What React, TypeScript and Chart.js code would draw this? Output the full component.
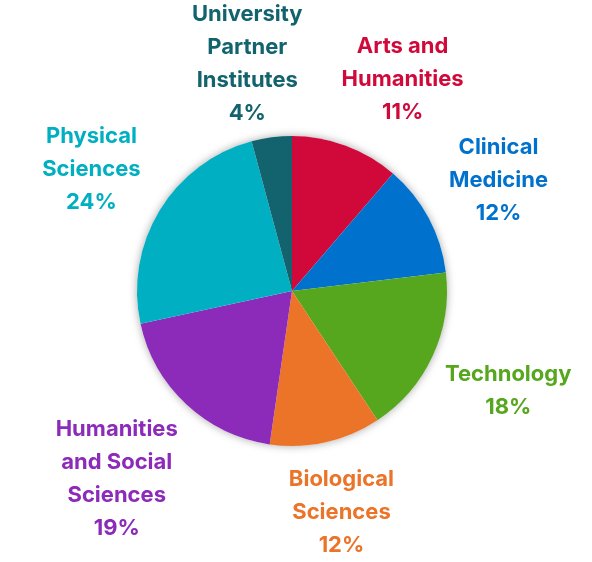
import React, { useEffect, useRef } from "react";
import { Chart, registerables } from "chart.js";

Chart.register(...registerables);

const categories: string[][] = [
  ["Arts and", "Humanities"],
  ["Clinical", "Medicine"],
  ["Technology"],
  ["Biological", "Sciences"],
  ["Humanities", "and Social", "Sciences"],
  ["Physical", "Sciences"],
  ["University", "Partner", "Institutes"],
];
const values: number[] = [11.3, 11.8, 17.6, 11.6, 19.3, 24.2, 4.2];
const colors: string[] = [
  "#D1093B",
  "#0072CE",
  "#56A61E",
  "#EB7429",
  "#8C2AB9",
  "#00AFC1",
  "#12636D",
];

const FONT = "bold 22px Inter, 'Open Sans', sans-serif";
const LINE_H = 33;
const GAP = 12;

const shadowPlugin = {
  id: "pieShadow",
  beforeDatasetsDraw(chart: any) {
    const meta = chart.getDatasetMeta(0);
    const arc = meta.data[0];
    if (!arc) return;
    const { x, y, outerRadius } = arc.getProps(["x", "y", "outerRadius"], true);
    const ctx = chart.ctx;
    ctx.save();
    ctx.shadowColor = "rgba(0,0,0,0.35)";
    ctx.shadowBlur = 9;
    ctx.fillStyle = "#ffffff";
    ctx.beginPath();
    ctx.arc(x, y, outerRadius, 0, Math.PI * 2);
    ctx.fill();
    ctx.restore();
  },
};

const labelPlugin = {
  id: "outsideLabels",
  afterDatasetsDraw(chart: any) {
    const meta = chart.getDatasetMeta(0);
    const ctx = chart.ctx;
    const total = values.reduce((a, b) => a + b, 0);
    const W = chart.width;
    const H = chart.height;
    ctx.save();
    ctx.font = FONT;
    ctx.textAlign = "center";
    ctx.textBaseline = "middle";
    const items = meta.data.map((arc: any, i: number) => {
      const p = arc.getProps(["x", "y", "startAngle", "endAngle", "outerRadius"], true);
      const lines = [...categories[i], Math.round((values[i] / total) * 100) + "%"];
      const w = Math.max(...lines.map((l) => ctx.measureText(l).width));
      const h = lines.length * LINE_H;
      return { p, lines, w, h, angle: (p.startAngle + p.endAngle) / 2, cx: 0, cy: 0 };
    });
    const place = (it: any) => {
      const dx = Math.cos(it.angle);
      const dy = Math.sin(it.angle);
      const d = it.p.outerRadius + GAP + (Math.abs(dx) * it.w) / 2 + (Math.abs(dy) * it.h) / 2;
      it.cx = it.p.x + dx * d;
      it.cy = it.p.y + dy * d;
      it.cy = Math.max(it.cy, it.h / 2 - 2);
      it.cy = Math.min(it.cy, H - it.h / 2 + 2);
      it.cx = Math.max(it.cx, it.w / 2);
      it.cx = Math.min(it.cx, W - it.w / 2);
    };
    const overlap = (a: any, b: any) =>
      Math.abs(a.cx - b.cx) < (a.w + b.w) / 2 + 38 && Math.abs(a.cy - b.cy) < (a.h + b.h) / 2 - 4;
    items.forEach(place);
    for (let iter = 0; iter < 400; iter++) {
      let moved = false;
      for (let i = 0; i < items.length; i++) {
        const a = items[i];
        const b = items[(i + 1) % items.length];
        if (overlap(a, b)) {
          a.angle -= 0.003;
          b.angle += 0.007;
          place(a);
          place(b);
          moved = true;
        }
      }
      if (!moved) break;
    }
    items.forEach((it: any, i: number) => {
      ctx.fillStyle = colors[i];
      it.lines.forEach((l: string, k: number) => {
        ctx.fillText(l, it.cx, it.cy - it.h / 2 + LINE_H * (k + 0.5));
      });
    });
    ctx.restore();
  },
};

export default function App() {
  const ref = useRef<HTMLCanvasElement | null>(null);
  useEffect(() => {
    if (!ref.current) return;
    const chart = new Chart(ref.current, {
      type: "pie",
      data: {
        labels: categories.map((c) => c.join(" ")),
        datasets: [
          {
            data: values,
            backgroundColor: colors,
            borderWidth: 0,
          },
        ],
      },
      options: {
        responsive: false,
        animation: false,
        layout: { padding: { left: 137, right: 145, top: 136, bottom: 116 } },
        plugins: {
          legend: { display: false },
          tooltip: { enabled: false },
        },
      },
      plugins: [shadowPlugin, labelPlugin],
    });
    return () => chart.destroy();
  }, []);
  return (
    <div style={{ position: "absolute", left: 0, top: 0, width: 592, height: 562, background: "#fff" }}>
      <canvas ref={ref} width={592} height={562} />
    </div>
  );
}
